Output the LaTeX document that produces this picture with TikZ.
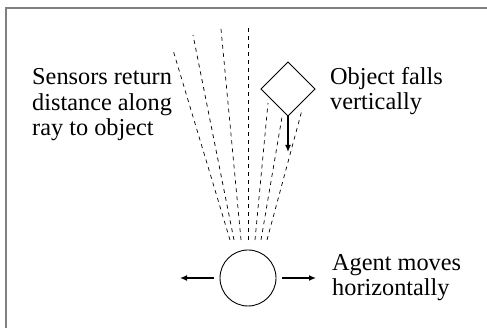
\documentclass[tikz,border=0pt]{standalone}
\usepackage{fontspec}
\setmainfont{Liberation Serif}
\usetikzlibrary{arrows.meta}
\tikzset{
  frameline/.style={draw=black!50, line width=1.6pt},
  ray/.style={draw=black, line width=0.7pt, dash pattern=on 4pt off 4pt},
  shapeline/.style={draw=black, line width=0.9pt},
  motion/.style={draw=black, line width=2.6pt, -{Latex[length=7pt,width=6pt]}},
  label/.style={inner sep=0pt, align=left, anchor=base west,
    font=\fontsize{24.3pt}{25.8pt}\selectfont}
}
\begin{document}
\begin{tikzpicture}[x=1pt, y=-1pt]
\useasboundingbox (0,0) rectangle (487,328);
% frame
\draw[frameline] (6,328) -- (6,8) -- (487,8);
% sensor rays
\coordinate (r1a) at (230,240); \coordinate (r1b) at (173,50);
\coordinate (r2a) at (234,240); \coordinate (r2b) at (193,35);
\coordinate (r3a) at (241,240); \coordinate (r3b) at (221,29);
\coordinate (r4a) at (248,240); \coordinate (r4b) at (248,28);
\coordinate (r5a) at (255,240); \coordinate (r5b) at (268,103);
\coordinate (r6a) at (261,240); \coordinate (r6b) at (282,117);
\coordinate (r7a) at (267,240); \coordinate (r7b) at (302,110);
\foreach \i in {1,...,7} {\draw[ray] (r\i a) -- (r\i b);}
% object (diamond)
\coordinate (dtop) at (288,62);
\coordinate (dleft) at (261,89);
\coordinate (dbot) at (288,116);
\coordinate (dright) at (315,89);
\draw[shapeline] (dtop) -- (dright) -- (dbot) -- (dleft) -- cycle;
\coordinate (fallend) at (288,152);
\draw[motion] (dbot) -- (fallend);
% agent
\node[shapeline, circle, minimum size=56pt, inner sep=0pt] (agent) at (248,278) {};
\coordinate (leftend) at (180,278);
\coordinate (rightend) at (316,278);
\draw[motion] ([xshift=-6pt]agent.west) -- (leftend);
\draw[motion] ([xshift=6pt]agent.east) -- (rightend);
% labels (base anchor = baseline of last line)
\node[label] (sensors) at (32,136) {Sensors return\\distance along\\ray to object};
\node[label] (object) at (330,110) {Object falls\\vertically};
\node[label] (agenttext) at (332,296) {Agent moves\\horizontally};
\end{tikzpicture}
\end{document}
